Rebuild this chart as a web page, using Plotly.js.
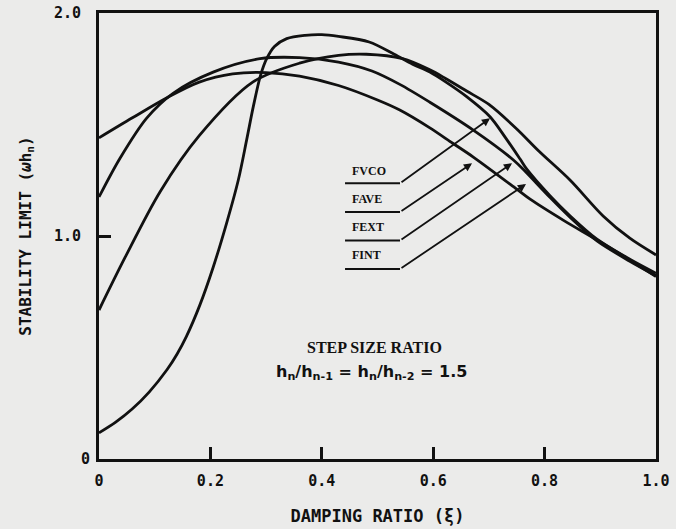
<!DOCTYPE html>
<html><head><meta charset="utf-8">
<script src="https://cdn.plot.ly/plotly-3.0.1.min.js"></script>
<style>html,body{margin:0;padding:0;background:#ebebea;} #chart{width:676px;height:529px;}</style>
</head><body><div id="chart"></div>
<script>
// ---- data ----
const dampFAVE = [0,0.06,0.122,0.18,0.24,0.30,0.36,0.43,0.50,0.54,0.594,0.635,0.672,0.75,0.774,0.834,0.894,0.953,1.0];
const limFAVE  = [1.44,1.53,1.62,1.69,1.727,1.733,1.717,1.675,1.61,1.565,1.485,1.416,1.354,1.21,1.165,1.07,0.982,0.892,0.818];

const dampFEXT = [0,0.038,0.086,0.133,0.205,0.289,0.36,0.43,0.49,0.54,0.594,0.672,0.744,0.765,0.81,0.846,0.894,0.953,1.0];
const limFEXT  = [1.175,1.35,1.53,1.64,1.735,1.795,1.80,1.78,1.74,1.68,1.60,1.475,1.341,1.29,1.172,1.083,0.978,0.887,0.822];

const dampFINT = [0,0.047,0.11,0.18,0.276,0.36,0.43,0.48,0.545,0.594,0.623,0.66,0.70,0.75,0.79,0.846,0.905,0.953,1.0];
const limFINT  = [0.668,0.905,1.20,1.45,1.69,1.775,1.81,1.815,1.795,1.745,1.705,1.65,1.59,1.48,1.38,1.25,1.09,0.99,0.915];

const dampFVCO = [0,0.03,0.06,0.09,0.122,0.14,0.157,0.181,0.205,0.229,0.25,0.265,0.277,0.29,0.301,0.315,0.337,0.37,0.40,0.43,0.485,0.53,0.563,0.594,0.623,0.66,0.702,0.73,0.756,0.768,0.81,0.846,0.894,0.953,1.0];
const limFVCO  = [0.117,0.165,0.225,0.30,0.40,0.47,0.55,0.69,0.86,1.057,1.25,1.43,1.58,1.72,1.795,1.85,1.885,1.90,1.903,1.895,1.87,1.815,1.77,1.735,1.69,1.625,1.535,1.44,1.345,1.30,1.18,1.09,0.986,0.896,0.833];

const xTickVals = [0,0.2,0.4,0.6,0.8,1.0];
const xTickText = ['0','0.2','0.4','0.6','0.8','1.0'];
const yTickVals = [0,1,2];
const yTickText = ['0','1.0','2.0'];
const labelNames = ['FVCO','FAVE','FEXT','FINT'];

// ---- drawing ----
const ink = '#111111';
const series = [[dampFAVE,limFAVE,'FAVE'],[dampFEXT,limFEXT,'FEXT'],[dampFINT,limFINT,'FINT'],[dampFVCO,limFVCO,'FVCO']];
const traces = series.map(s => ({
  x: s[0], y: s[1], name: s[2], type: 'scatter', mode: 'lines',
  line: {color: ink, width: 2.8, shape: 'spline', smoothing: 0.9},
  hoverinfo: 'x+y+name', showlegend: false
}));

// leader-label placement (annotation geometry, data coords)
const lblX = 0.4506, ulX0 = 0.4417, ulX1 = 0.5404;
const lblY = [1.291,1.166,1.040,0.915];
const ulY  = [1.236,1.108,0.980,0.852];
const tipX = [0.702,0.6697,0.7415,0.7666];
const tipY = [1.528,1.326,1.326,1.233];

const annotations = [];
const shapes = [];
labelNames.forEach((n,i) => {
  annotations.push({x: lblX, y: lblY[i], xref:'x', yref:'y', text: '<b>'+n+'</b>', showarrow:false,
    xanchor:'left', yanchor:'middle', font:{family:'Liberation Serif', size:12, color: ink}});
  shapes.push({type:'line', xref:'x', yref:'y', x0: ulX0, x1: ulX1, y0: ulY[i], y1: ulY[i],
    line:{color: ink, width: 2}});
  annotations.push({x: tipX[i], y: tipY[i], ax: ulX1, ay: ulY[i], xref:'x', yref:'y', axref:'x', ayref:'y',
    text:'', showarrow:true, arrowhead:2, arrowsize:0.9, arrowwidth:1.8, arrowcolor: ink, standoff:0, startstandoff:0});
});
annotations.push({x: 0.494, y: 0.50, xref:'x', yref:'y', text:'<b>STEP SIZE RATIO</b>', showarrow:false,
  font:{family:'Liberation Serif', size:16, color: ink}});
annotations.push({x: 0.49, y: 0.386, xref:'x', yref:'y',
  text:'<b>h<sub>n</sub>/h<sub>n-1</sub> = h<sub>n</sub>/h<sub>n-2</sub> = 1.5</b>', showarrow:false,
  font:{family:'DejaVu Sans', size:16, color: ink}});

const axisFont = {family:'DejaVu Sans Mono', size:15, color: ink};
const layout = {
  width: 676, height: 529,
  margin: {l: 99, r: 20, t: 13, b: 70},
  paper_bgcolor: '#ebebea', plot_bgcolor: '#ebebea',
  xaxis: {range:[0,1], tickvals: xTickVals, ticktext: xTickText.map(t=>'<b>'+t+'</b>'),
    ticks:'inside', ticklen:12, tickwidth:3, tickcolor: ink,
    showline:true, linewidth:3, linecolor: ink, mirror:true, showgrid:false, zeroline:false,
    tickfont: axisFont, ticklabelstandoff: 6,
    title:{text:'<b>DAMPING RATIO (ξ)</b>', font:{family:'DejaVu Sans Mono', size:17, color: ink}, standoff: 22}},
  yaxis: {range:[0,2], tickvals: yTickVals, ticktext: yTickText.map(t=> t==='0' ? '<b>0</b>' : '<b>'+t+'\u00a0</b>'),
    ticks:'inside', ticklen:12, tickwidth:3, tickcolor: ink,
    showline:true, linewidth:3, linecolor: ink, mirror:true, showgrid:false, zeroline:false,
    tickfont: axisFont, ticklabelstandoff: 3,
    title:{text:'<b>STABILITY LIMIT (<i>ω</i>h<sub>n</sub>)</b>', font:{family:'DejaVu Sans Mono', size:16, color: ink}, standoff: 19}},
  annotations: annotations, shapes: shapes
};
Plotly.newPlot('chart', traces, layout, {displayModeBar:false, staticPlot:true});
</script></body></html>
